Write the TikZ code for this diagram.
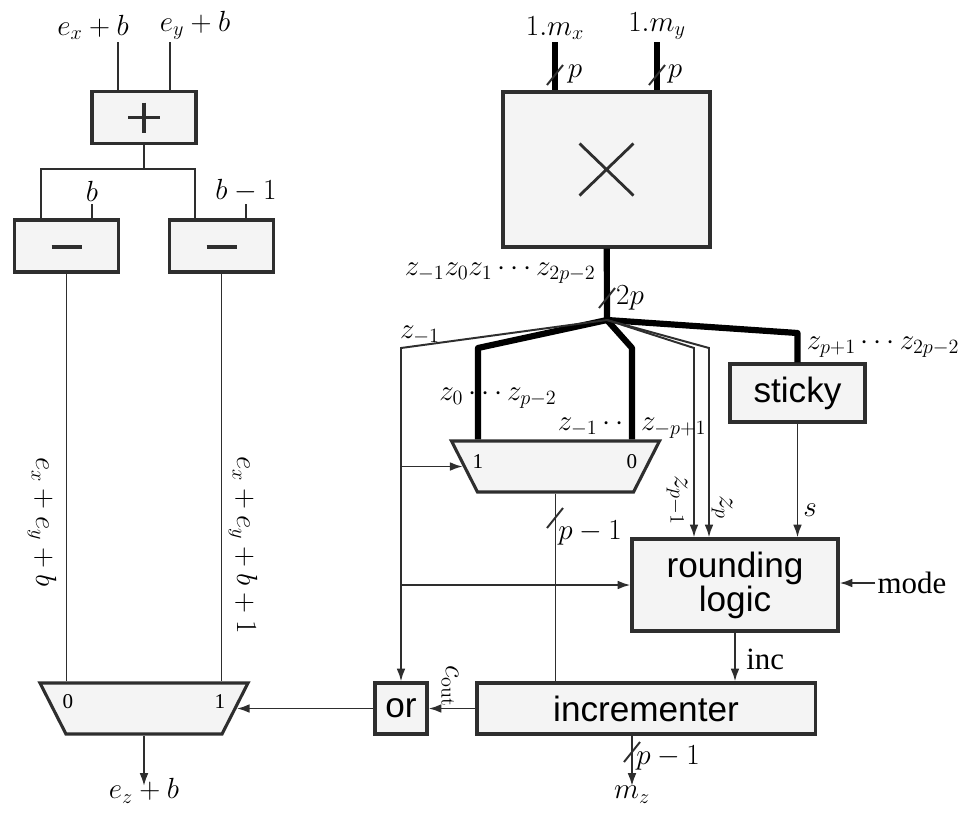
\documentclass[tikz,border=0pt]{standalone}
\usepackage[no-math]{fontspec}
\setmainfont{Liberation Serif}
\setsansfont{Liberation Sans}
\usetikzlibrary{arrows.meta, shapes.geometric, calc}
\definecolor{cline}{HTML}{2E2E2E}
\definecolor{cfill}{HTML}{F4F4F4}
\tikzset{
  every picture/.style={line width=1.4pt, font=\fontsize{22}{26}\selectfont},
  box/.style={draw=cline, fill=cfill, line width=2.2pt, inner sep=0pt, align=center, font=\sffamily\fontsize{25}{21}\selectfont},
  arrow/.style={-{Latex[length=3.2mm, width=2.2mm]}, draw=cline, line width=1.4pt},
  wire/.style={draw=cline, line width=1.4pt},
  bus/.style={draw=black, line width=4.4pt, line join=round},
  lbl/.style={inner sep=1pt},
  sym/.style={draw=cline, line width=2.6pt},
}

\begin{document}
\begin{tikzpicture}[x=0.025cm, y=-0.025cm,
  op/.style={box, minimum width=2.6cm, minimum height=1.3cm},
  mux/.style={trapezium, shape border rotate=180, trapezium angle=63,
    draw=cline, fill=cfill, line width=2.2pt, inner xsep=1.95cm, inner ysep=0.6375cm},
  sel/.style={font=\fontsize{15}{18}\selectfont, inner sep=0pt},
  low/.style={lbl, anchor=north, text height=1.6ex, text depth=.4ex}]
  \useasboundingbox (0,0) rectangle (968,818);
  % exponent
  \node[lbl, anchor=south] (ex) at (93,42) {$e_x+b$};
  \node[lbl, anchor=south] (ey) at (195,42) {$e_y+b$};
  \node[op] (add) at (144,117.5) {};
  \draw[sym] ($(add)+(-16,0)$) -- ($(add)+(16,0)$) ($(add)+(0,-15)$) -- ($(add)+(0,15)$);
  \coordinate (a1) at (118,91);
  \coordinate (a2) at (170,91);
  \draw[wire] (a1 |- ex.south) -- (a1);
  \draw[wire] (a2 |- ey.south) -- (a2);
  \node[op] (sub1) at (66.5,246) {};
  \node[op] (sub2) at (221.5,246) {};
  \foreach \s in {sub1, sub2} \draw[sym] ($(\s)+(-15,1)$) -- ($(\s)+(15,1)$);
  \coordinate (sp) at (144,169);
  \coordinate (i1) at (41,220);
  \coordinate (i3) at (195,220);
  \draw[wire] (add) -- (sp);
  \draw[wire] (i1) |- (sp) -| (i3);
  \node[lbl, anchor=south] (bb) at (92,204) {$b$};
  \node[lbl, anchor=south] (bm) at (246,204) {$b-1$};
  \draw[wire] (bb) -- (bb |- sub1.north);
  \draw[wire] (bm) -- (bm |- sub2.north);
  \node[mux] (lmux) at (144,708.5) {};
  \node[sel] (l0) at (68,702) {0};
  \node[sel] (l1) at (220,702) {1};
  \draw[wire] (sub1) -- (sub1 |- lmux.north);
  \draw[wire] (sub2) -- (sub2 |- lmux.north);
  \node[lbl, rotate=-90] (sum1) at (42,522) {$e_x+e_y+b$};
  \node[lbl, rotate=-90] (sum2) at (243,545) {$e_x+e_y+b+1$};
  \node[low] (ez) at (144,786) {$e_z+b$};
  \draw[arrow] (lmux) -- (ez);
  % significand
  \node[lbl, anchor=south] (mx) at (555,42) {$1.m_x$};
  \node[lbl, anchor=south] (my) at (657,42) {$1.m_y$};
  \node[box, minimum width=5.175cm, minimum height=3.875cm] (mul) at (606.5,169.5) {};
  \draw[sym, line width=2pt] ($(mul)+(-27,-26)$) -- ($(mul)+(27,26)$) ($(mul)+(-27,26)$) -- ($(mul)+(27,-26)$);
  \draw[bus] (mx) -- (mx |- mul.north);
  \draw[bus] (my) -- (my |- mul.north);
  \node[lbl] (pa) at (575,74) {$p$};
  \node[lbl] (pb) at (675,74) {$p$};
  \coordinate (J) at (607,320);
  \draw[bus] (mul) -- (J);
  \node[lbl, anchor=east] (zall) at (598,273) {$z_{-1}z_0z_1\cdots z_{2p-2}$};
  \node[lbl] (p2) at (630,298) {$2p$};
  \node[mux] (cmux) at (555.5,466.5) {};
  \node[sel] (c1) at (478,462) {1};
  \node[sel] (c0) at (632,462) {0};
  \coordinate (k0) at (478,348);
  \coordinate (k1) at (632,348);
  \draw[bus] (J) -- (k0) -- (k0 |- cmux.north);
  \draw[bus] (J) -- (k1) -- (k1 |- cmux.north);
  \node[box, minimum width=3.375cm, minimum height=1.45cm] (sticky) at (797.5,393) {sticky};
  \coordinate (k2) at (797.5,333);
  \draw[bus] (J) -- (k2) -- (sticky);
  \node[box, minimum width=5.15cm, minimum height=2.3cm] (rl) at (735,585) {rounding\\logic};
  \coordinate (k3) at (694,348);
  \coordinate (k4) at (709,348);
  \draw[arrow] (J) -- (k3) -- (k3 |- rl.north);
  \draw[arrow] (J) -- (k4) -- (k4 |- rl.north);
  \draw[arrow] (sticky) -- (sticky |- rl.north);
  \node[box, minimum width=1.3cm, minimum height=1.275cm] (or) at (401,708.5) {or};
  \coordinate (zc) at (401,348);
  \draw[arrow] (J) -- (zc) -- (or);
  \draw[arrow] (zc |- cmux.west) -- (cmux.west);
  \draw[arrow] (zc |- rl.west) -- (rl.west);
  \node[box, minimum width=8.45cm, minimum height=1.275cm] (inc) at (646,708.5) {incrementer};
  \draw[wire] (cmux) -- (cmux |- inc.north);
  \draw[arrow] (rl) -- (rl |- inc.north);
  \node[lbl] (mode) at (912,583) {mode};
  \draw[arrow] (mode.west) -- (mode.west -| rl.east);
  \draw[arrow] (inc) -- (or);
  \draw[arrow] (or) -- (lmux.east);
  \node[low] (mz) at (632,786) {$m_z$};
  \draw[arrow] (mz |- inc.south) -- (mz);
  % labels
  \node[lbl] (zm1) at (420,335) {$z_{-1}$};
  \node[lbl] (zlo) at (498,398) {$z_0\cdots z_{p-2}$};
  \node[lbl] (zhi) at (632,428) {$z_{-1}\cdots z_{-p+1}$};
  \node[lbl, rotate=-90] (zq1) at (677,500) {$z_{p-1}$};
  \node[lbl, rotate=-90] (zq) at (722,507) {$z_p$};
  \node[lbl] (zst) at (883,347) {$z_{p+1}\cdots z_{2p-2}$};
  \node[lbl] (sl) at (810,510) {$s$};
  \node[lbl] (w1) at (590,533) {$p-1$};
  \node[lbl, anchor=west] (incl) at (744,659) {inc};
  \node[lbl, rotate=-90] (cout) at (450,686) {$c_{\mathrm{out}}$};
  \node[lbl] (w2) at (668,758) {$p-1$};
  \foreach \x/\y in {555/75, 657/75, 607/298, 555/518, 632/752}
    \draw[wire] (\x-8,\y+10) -- (\x+8,\y-10);
\end{tikzpicture}
\end{document}
